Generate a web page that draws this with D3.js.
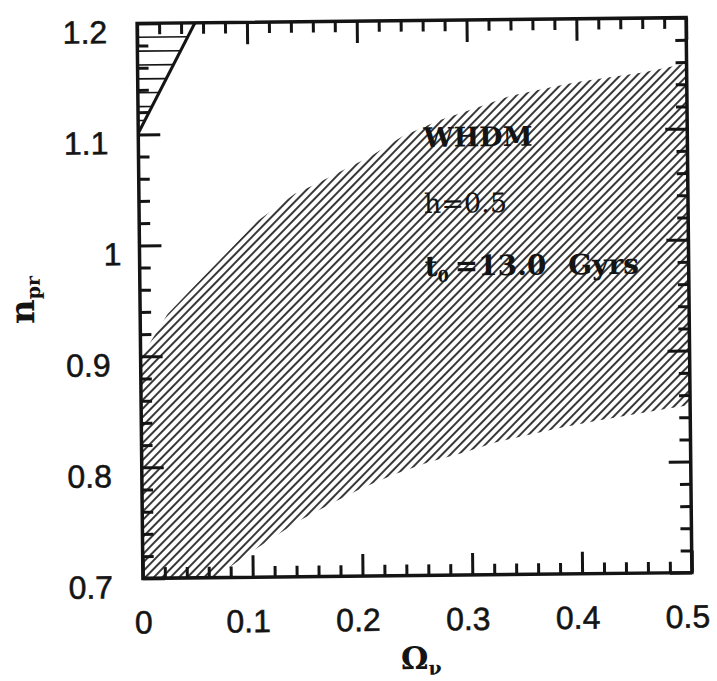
<!DOCTYPE html>
<html><head><meta charset="utf-8">
<script src="https://cdn.jsdelivr.net/npm/d3@7"></script>
<style>body{margin:0;background:#fff}</style>
</head><body>
<svg id="c" width="717" height="681"></svg>
<script>
// ---- data ----
const xDomain = [0, 0.5];
const yDomain = [0.7, 1.2];
const xTickValues = [0, 0.1, 0.2, 0.3, 0.4, 0.5];
const xTickText = ["0", "0.1", "0.2", "0.3", "0.4", "0.5"];
const yTickValues = [0.7, 0.8, 0.9, 1.0, 1.1, 1.2];
const yTickText = ["0.7", "0.8", "0.9", "1", "1.1", "1.2"];
const minorStep = 0.02;

// upper boundary of allowed region (Omega_nu, n_pr)
const upperX = [0, 0.013, 0.025, 0.05, 0.08, 0.108, 0.142, 0.158, 0.211, 0.241, 0.275, 0.309, 0.339, 0.373, 0.400, 0.430, 0.460, 0.491, 0.5];
const upperY = [0.899, 0.919, 0.938, 0.963, 0.993, 1.021, 1.045, 1.052, 1.078, 1.096, 1.110, 1.121, 1.131, 1.138, 1.143, 1.147, 1.151, 1.157, 1.159];
// lower boundary
const lowerX = [0.066, 0.086, 0.104, 0.142, 0.171, 0.200, 0.229, 0.261, 0.292, 0.322, 0.354, 0.383, 0.416, 0.448, 0.480, 0.5];
const lowerY = [0.700, 0.714, 0.726, 0.750, 0.765, 0.779, 0.791, 0.802, 0.810, 0.819, 0.826, 0.832, 0.838, 0.843, 0.848, 0.851];
// excluded corner (top-left)
const triX = [0, 0.0527];
const triY = [1.101, 1.2];
const triHatchY = [1.1125, 1.125, 1.1375, 1.15, 1.1625, 1.175, 1.1875];

const annoModel = "WHDM";
const annoH = "h=0.5";
const annoAge = ["t", "0", "=13.0", "Gyrs"];

// ---- drawing ----
const svg = d3.select("#c");
svg.append("rect").attr("width", 717).attr("height", 681).attr("fill", "#fff");
const L = 140, R = 689, T = 20.5, B = 575.5;
const x = d3.scaleLinear().domain(xDomain).range([L, R]);
const y = d3.scaleLinear().domain(yDomain).range([B, T]);
const ink = "#141414";

const defs = svg.append("defs");
const pat = defs.append("pattern").attr("id", "hatch")
  .attr("patternUnits", "userSpaceOnUse").attr("width", 10).attr("height", 6)
  .attr("patternTransform", "rotate(-45)");
pat.append("line").attr("x1", -1).attr("x2", 11).attr("y1", 3).attr("y2", 3)
  .attr("stroke", ink).attr("stroke-width", 1.7);
defs.append("clipPath").attr("id", "frameClip").append("rect")
  .attr("x", L).attr("y", T).attr("width", R - L).attr("height", B - T);

const g = svg.append("g").attr("transform", "rotate(-0.6,414.5,298)");

// allowed region
const pts = upperX.map((v, i) => [v, upperY[i]])
  .concat(lowerX.map((v, i) => [v, lowerY[i]]).reverse())
  .concat([[0, 0.7]]);
const line = d3.line().x(d => x(d[0])).y(d => y(d[1]));
g.append("path").attr("d", line(pts) + "Z").attr("fill", "url(#hatch)")
  .attr("clip-path", "url(#frameClip)");

// excluded corner
const triSlope = (triX[1] - triX[0]) / (triY[1] - triY[0]);
g.selectAll(".th").data(triHatchY).join("line").attr("class", "th")
  .attr("x1", x(0)).attr("x2", d => x(triX[0] + (d - triY[0]) * triSlope))
  .attr("y1", d => y(d)).attr("y2", d => y(d))
  .attr("stroke", ink).attr("stroke-width", 1.6);
g.append("line").attr("x1", x(triX[0])).attr("y1", y(triY[0]))
  .attr("x2", x(triX[1])).attr("y2", y(triY[1]))
  .attr("stroke", ink).attr("stroke-width", 3);

// axes
const xMinor = d3.range(xDomain[0], xDomain[1] + 1e-9, minorStep).filter(v => xTickValues.every(t => Math.abs(t - v) > 1e-6));
const yMinor = d3.range(yDomain[0], yDomain[1] + 1e-9, minorStep).filter(v => yTickValues.every(t => Math.abs(t - v) > 1e-6));
function style(sel) {
  sel.select(".domain").remove();
  sel.selectAll(".tick line").attr("stroke", ink).attr("stroke-width", 3);
}
const axes = [
  [d3.axisBottom(x).tickValues(xMinor).tickSize(-11).tickFormat(""), `translate(0,${B})`],
  [d3.axisTop(x).tickValues(xMinor).tickSize(-11).tickFormat(""), `translate(0,${T})`],
  [d3.axisTop(x).tickValues(xTickValues).tickSize(-22).tickFormat(""), `translate(0,${T})`],
  [d3.axisLeft(y).tickValues(yMinor).tickSize(-11).tickFormat(""), `translate(${L},0)`],
  [d3.axisRight(y).tickValues(yMinor).tickSize(-11).tickFormat(""), `translate(${R},0)`],
  [d3.axisRight(y).tickValues(yTickValues).tickSize(-22).tickFormat(""), `translate(${R},0)`]
];
axes.forEach(([a, t]) => g.append("g").attr("transform", t).call(a).call(style));

const xb = g.append("g").attr("transform", `translate(0,${B})`)
  .call(d3.axisBottom(x).tickValues(xTickValues).tickSize(-22).tickFormat((d, i) => xTickText[i]))
  .call(style);
xb.selectAll("text").attr("y", 55).attr("dy", null)
  .attr("dx", d => d === 0 ? 0 : -5)
  .attr("font-family", "'Liberation Sans', Arial, sans-serif").attr("font-size", 32)
  .attr("fill", ink).attr("stroke", ink).attr("stroke-width", 0.55);

const yl = g.append("g").attr("transform", `translate(${L},0)`)
  .call(d3.axisLeft(y).tickValues(yTickValues).tickSize(-22).tickFormat((d, i) => yTickText[i]))
  .call(style);
yl.selectAll("text").attr("x", -30).attr("dy", "0.6em")
  .attr("dx", d => d === 1 ? 12 : 0)
  .attr("font-family", "'Liberation Sans', Arial, sans-serif").attr("font-size", 32)
  .attr("fill", ink).attr("stroke", ink).attr("stroke-width", 0.55);

// frame
g.append("rect").attr("x", L).attr("y", T).attr("width", R - L).attr("height", B - T)
  .attr("fill", "none").attr("stroke", ink).attr("stroke-width", 3.5);

// annotations
const serif = "'DejaVu Serif', serif";
g.append("text").attr("x", 425).attr("y", 147).attr("font-family", serif)
  .attr("font-weight", "bold").attr("font-size", 27).attr("fill", ink).text(annoModel);
g.append("text").attr("x", 425).attr("y", 213).attr("font-family", serif)
  .attr("font-size", 27).attr("fill", ink).text(annoH);
const ta = g.append("text").attr("x", 425).attr("y", 276).attr("font-family", serif)
  .attr("font-weight", "bold").attr("font-size", 28).attr("fill", ink);
ta.append("tspan").text(annoAge[0]);
ta.append("tspan").attr("dy", 6).attr("font-size", 16).text(annoAge[1]);
ta.append("tspan").attr("dy", -6).attr("dx", 6).text(annoAge[2]);
ta.append("tspan").attr("dx", 12).text(" " + annoAge[3]);

// axis titles
const xt = g.append("text").attr("x", 397).attr("y", 669).attr("font-family", serif)
  .attr("font-weight", "bold").attr("font-size", 31).attr("fill", ink);
xt.append("tspan").text("Ω");
xt.append("tspan").attr("dy", 6).attr("font-size", 19).text("ν");

const ytit = g.append("text").attr("transform", "translate(34,320) rotate(-90)")
  .attr("font-family", serif).attr("font-weight", "bold").attr("font-size", 34).attr("fill", ink);
ytit.append("tspan").text("n");
ytit.append("tspan").attr("dy", 6).attr("font-size", 19).text("pr");
</script>
</body></html>
